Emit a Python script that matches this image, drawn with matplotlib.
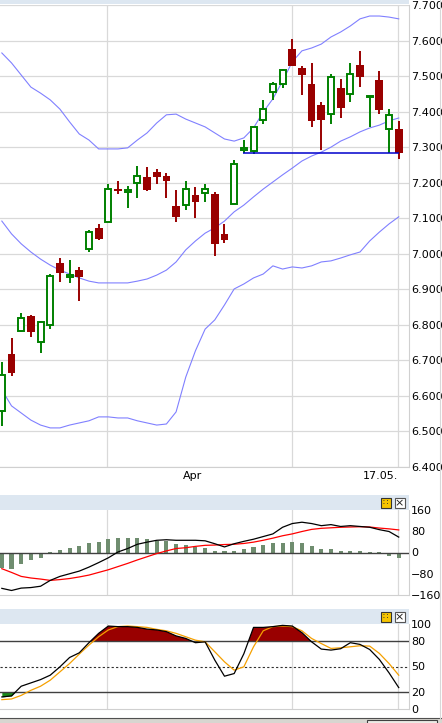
import numpy as np
import matplotlib
matplotlib.use('Agg')
import matplotlib.pyplot as plt
import matplotlib.transforms as mtransforms
from matplotlib.patches import Rectangle
from matplotlib.lines import Line2D

W, H = 442, 723

# daily candles (42 sessions, last one 17.05.)
opens = [6.558, 6.718, 6.783, 6.825, 6.752, 6.800, 6.974, 6.935, 6.954, 7.013,
         7.073, 7.089, 7.182, 7.174, 7.199, 7.216, 7.230, 7.219, 7.134, 7.137,
         7.165, 7.171, 7.168, 7.056, 7.140, 7.292, 7.289, 7.376, 7.455, 7.478,
         7.576, 7.523, 7.478, 7.419, 7.393, 7.466, 7.450, 7.531, 7.440, 7.489,
         7.351, 7.351]
highs = [6.696, 6.763, 6.833, 6.828, 6.811, 6.943, 6.988, 6.983, 6.963, 7.067,
         7.084, 7.196, 7.205, 7.191, 7.247, 7.244, 7.239, 7.227, 7.179, 7.205,
         7.188, 7.196, 7.174, 7.084, 7.264, 7.320, 7.357, 7.433, 7.483, 7.520,
         7.604, 7.528, 7.537, 7.427, 7.506, 7.492, 7.537, 7.571, 7.444, 7.514,
         7.407, 7.374]
lows = [6.515, 6.656, 6.780, 6.766, 6.721, 6.788, 6.921, 6.918, 6.867, 7.005,
        7.040, 7.089, 7.168, 7.129, 7.157, 7.177, 7.196, 7.157, 7.089, 7.123,
        7.101, 7.146, 6.994, 7.030, 7.140, 7.284, 7.281, 7.365, 7.433, 7.466,
        7.528, 7.447, 7.357, 7.292, 7.365, 7.382, 7.427, 7.469, 7.357, 7.393,
        7.284, 7.267]
closes = [6.659, 6.665, 6.819, 6.780, 6.808, 6.937, 6.946, 6.940, 6.935, 7.061,
          7.042, 7.182, 7.177, 7.179, 7.219, 7.179, 7.216, 7.205, 7.103, 7.182,
          7.146, 7.182, 7.027, 7.039, 7.253, 7.298, 7.357, 7.407, 7.478, 7.517,
          7.528, 7.503, 7.374, 7.376, 7.497, 7.410, 7.506, 7.497, 7.444, 7.405,
          7.390, 7.284]

# Bollinger bands
bb_upper = [7.565, 7.537, 7.503, 7.469, 7.452, 7.433, 7.407, 7.371, 7.337, 7.320,
            7.295, 7.295, 7.295, 7.298, 7.320, 7.340, 7.368, 7.391, 7.393, 7.379,
            7.368, 7.357, 7.340, 7.323, 7.317, 7.326, 7.354, 7.399, 7.436, 7.486,
            7.540, 7.571, 7.579, 7.590, 7.610, 7.624, 7.641, 7.661, 7.669, 7.669,
            7.666, 7.661]
bb_mid = [7.092, 7.056, 7.028, 7.005, 6.985, 6.968, 6.954, 6.943, 6.932, 6.923,
          6.918, 6.918, 6.918, 6.918, 6.923, 6.929, 6.940, 6.954, 6.977, 7.011,
          7.036, 7.058, 7.073, 7.092, 7.118, 7.137, 7.160, 7.182, 7.202, 7.222,
          7.241, 7.261, 7.275, 7.286, 7.300, 7.317, 7.329, 7.343, 7.354, 7.362,
          7.374, 7.382]
bb_lower = [6.617, 6.572, 6.552, 6.532, 6.518, 6.510, 6.510, 6.518, 6.524, 6.530,
            6.541, 6.541, 6.538, 6.538, 6.530, 6.524, 6.518, 6.521, 6.555, 6.653,
            6.727, 6.788, 6.814, 6.856, 6.901, 6.915, 6.932, 6.943, 6.966, 6.957,
            6.963, 6.960, 6.966, 6.977, 6.980, 6.988, 6.997, 7.005, 7.036, 7.061,
            7.084, 7.104]
support_level = 7.283

# MACD
macd_line = [-135, -143, -134, -132, -127, -105, -90, -80, -70, -55,
             -38, -20, 2, 15, 31, 39, 46, 48, 46, 46,
             46, 44, 33, 21, 33, 42, 50, 60, 70, 95,
             109, 114, 109, 101, 105, 98, 101, 98, 95, 86,
             79, 58]
macd_signal = [-61, -75, -90, -96, -100, -105, -102, -98, -92, -85,
               -75, -65, -53, -41, -28, -16, -4, 6, 15, 18,
               23, 27, 28, 30, 31, 34, 39, 46, 54, 63,
               70, 79, 87, 91, 93, 95, 96, 97, 96, 92,
               89, 85]
macd_hist = [-59, -63, -44, -28, -21, 2.5, 10, 16, 23, 34,
             39, 49, 53, 53, 53, 49, 45, 43, 32, 27,
             20, 16, 6, 4, 5, 13, 20, 27, 34, 37,
             39, 34, 25, 13, 13, 6, 6, 6, 0.5, 2,
             -12, -20]

# Stochastic
stoch_k = [14.2, 15.4, 26.8, 30.7, 34.6, 39.8, 49.6, 60.6, 66.1, 78.0,
           89.0, 97.6, 96.9, 96.9, 96.0, 94.0, 93.0, 91.0, 86.0, 83.0,
           78.0, 79.0, 57.5, 38.6, 41.7, 65.0, 96.0, 96.0, 96.9, 98.4,
           97.6, 89.8, 79.0, 70.5, 69.3, 70.9, 78.0, 76.0, 70.0, 58.3,
           42.5, 25.2]
stoch_d = [11.0, 11.8, 16.0, 22.0, 26.8, 33.9, 43.7, 53.5, 64.6, 75.2,
           85.0, 93.0, 96.9, 97.6, 96.9, 96.0, 93.7, 92.0, 89.0, 85.0,
           81.0, 79.0, 67.3, 55.5, 45.7, 49.6, 73.2, 92.0, 96.9, 97.6,
           96.9, 92.0, 83.0, 77.0, 71.3, 72.0, 73.2, 74.4, 74.0, 65.4,
           53.5, 39.8]

price_ticks = [6.4, 6.5, 6.6, 6.7, 6.8, 6.9, 7.0, 7.1, 7.2, 7.3, 7.4, 7.5, 7.6, 7.7]
macd_ticks = [-160, -80, 0, 80, 160]
stoch_ticks = [0, 20, 50, 80, 100]
date_labels = ['Apr', '17.05.']

GREEN = '#008000'
RED = '#990000'
BAND = '#8080ff'
GRID = '#d9d9d9'
HEAD = '#dde7f1'

x = np.arange(len(closes))
o, c = np.array(opens), np.array(closes)
up = c >= o

plt.rcParams['font.family'] = 'DejaVu Sans'
fig = plt.figure(figsize=(W / 100, H / 100), dpi=100)


def box(x0, y0, x1, y1):
    return [x0 / W, 1 - y1 / H, (x1 - x0) / W, (y1 - y0) / H]


ax = fig.add_axes(box(0, 5, 408.7, 467))
ax_m = fig.add_axes(box(0, 510, 408.7, 595))
ax_s = fig.add_axes(box(0, 624, 408.7, 709))

vgrid = [10.9, 29.95, 40.93]
for a in (ax, ax_m, ax_s):
    a.set_xlim(-0.19, 42.03)
    a.set_xticks(vgrid)
    a.tick_params(axis='x', length=0, labelbottom=False)
    a.tick_params(axis='y', left=False, labelleft=False, right=True, labelright=True,
                  length=0, pad=1.5, labelsize=8, colors='black')
    a.grid(axis='x', color=GRID, lw=0.9)
    a.set_axisbelow(True)
    for s in ('top', 'left'):
        a.spines[s].set_visible(False)
    for s in ('right', 'bottom'):
        a.spines[s].set_color('#d0d0d0')

# --- price panel
ax.set_ylim(6.4, 7.7)
ax.set_yticks(price_ticks)
ax.set_yticklabels(['%.3f' % t for t in price_ticks])
ax.grid(axis='y', color=GRID, lw=0.9)

ax.plot(x, bb_upper, color=BAND, lw=0.8)
ax.plot(x, bb_mid, color=BAND, lw=0.8)
ax.plot(x, bb_lower, color=BAND, lw=0.8)

ax.vlines(x[up], np.array(lows)[up], np.array(highs)[up], color=GREEN, lw=1.4, zorder=3)
ax.vlines(x[~up], np.array(lows)[~up], np.array(highs)[~up], color=RED, lw=1.4, zorder=3)
ax.bar(x[up], (c - o)[up], bottom=o[up], width=0.62, facecolor='white',
       edgecolor=GREEN, lw=1.4, zorder=4)
ax.bar(x[~up], (c - o)[~up], bottom=o[~up], width=0.8, color=RED, lw=0, zorder=4)

ax.hlines(support_level, 24.9, 41.0, color='#0000cc', lw=1.1, zorder=5)

tr = mtransforms.blended_transform_factory(ax.transData, ax.transAxes)
ax.text(19.72, -0.0195, date_labels[0], transform=tr, ha='center', va='center', fontsize=8)
ax.text(40.9, -0.0195, date_labels[1], transform=tr, ha='right', va='center', fontsize=8)

# --- MACD panel
ax_m.set_ylim(-160, 160)
ax_m.set_yticks(macd_ticks)
ax_m.bar(x, macd_hist, width=0.42, color='#6f8d6f', zorder=2)
ax_m.axhline(0, color='#404040', lw=1.0, zorder=3)
ax_m.plot(x, macd_signal, color='#ff0000', lw=0.9, zorder=4)
ax_m.plot(x, macd_line, color='black', lw=0.9, zorder=5)

# --- stochastic panel
k = np.array(stoch_k)
ax_s.set_ylim(0, 100)
ax_s.set_yticks(stoch_ticks)
ax_s.fill_between(x, k, 80, where=k >= 80, interpolate=True, color=RED, lw=0, zorder=2)
ax_s.fill_between(x, k, 20, where=k <= 20, interpolate=True, color='#1a8a1a', lw=0, zorder=2)
ax_s.axhline(80, color='#404040', lw=1.0, zorder=3)
ax_s.axhline(20, color='#404040', lw=1.0, zorder=3)
ax_s.axhline(50, color='#303030', lw=0.8, ls=(0, (2, 2)), zorder=3)
ax_s.plot(x, stoch_d, color='#f5a000', lw=0.9, zorder=4)
ax_s.plot(x, stoch_k, color='black', lw=0.9, zorder=5)


# --- window chrome
def frect(x0, y0, x1, y1, **kw):
    fig.add_artist(Rectangle((x0 / W, 1 - y1 / H), (x1 - x0) / W, (y1 - y0) / H,
                             transform=fig.transFigure, **kw))


frect(0, 0, 408.7, 4, fc=HEAD, ec='none')
for top in (495, 609):
    frect(0, top, 408.7, top + 15, fc=HEAD, ec='none')
    frect(380.5, top + 3, 390.5, top + 13, fc='#f5c400', ec='#333333', lw=0.8)
    fig.text(385.5 / W, 1 - (top + 8) / H, '\u2237', fontsize=6, ha='center',
             va='center', color='#333333')
    frect(394.5, top + 3, 404.5, top + 13, fc='white', ec='#555555', lw=0.8)
    fig.text(399.5 / W, 1 - (top + 8.3) / H, '\u00d7', fontsize=8, ha='center',
             va='center', color='#222222')

frect(0, 718.5, 442, 723, fc='#d8d6d0', ec='none')
fig.add_artist(Line2D([0, 1], [1 - 718.3 / H] * 2, transform=fig.transFigure,
                      color='#505050', lw=0.8))
frect(367, 720, 437, 725, fc='#ecebe6', ec='#404040', lw=0.8)
fig.add_artist(Line2D([440 / W] * 2, [1 - 718 / H, 1], transform=fig.transFigure,
                      color='#d8d8d8', lw=0.8))

fig.savefig('out.png', dpi=100)
